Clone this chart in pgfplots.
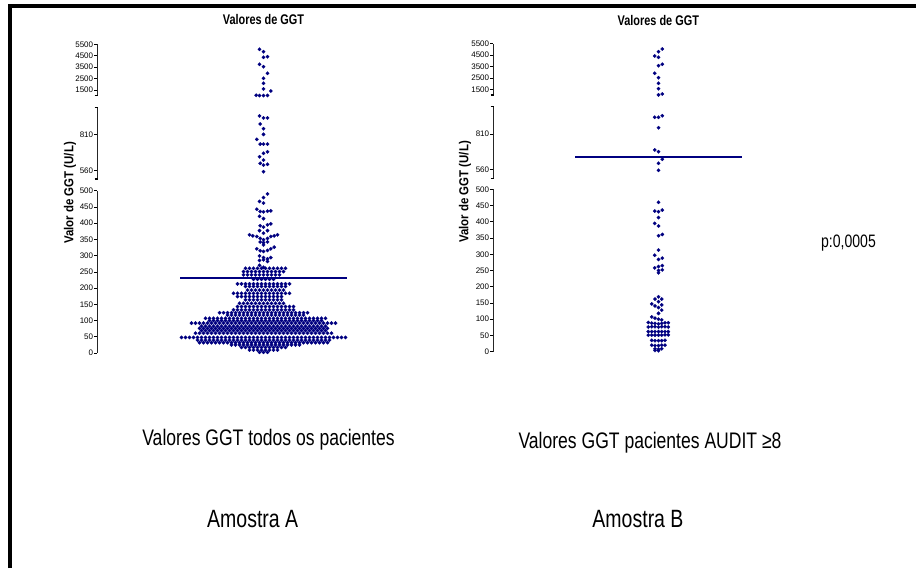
\documentclass[border=0pt]{standalone}
\usepackage{pgfplots}
\pgfplotsset{compat=1.18}
\usepackage{fontspec}
\setmainfont{Liberation Sans}
\newfontfamily\nf[FakeStretch=0.78]{Liberation Sans}
\newfontfamily\yf[FakeStretch=0.88]{Liberation Sans}
\definecolor{dotc}{RGB}{0,0,128}
\tikzset{segcap/.style={line width=1.2pt, black}}
\pgfplotsset{
 seg/.style={scale only axis, anchor=south west, clip=false,
   axis y line*=left, axis x line=none,
   y axis line style={-, line width=0.6pt, black!85},
   tick align=outside, major tick length=2.7pt,
   ytick style={line width=0.6pt, black},
   yticklabel style={font=\fontsize{8}{8}\selectfont, inner sep=1pt},
   /pgf/number format/assume math mode=true,
   /pgf/number format/1000 sep={},
   xtick=\empty},
 segA/.style={seg, width=333pt, xmin=-166.5, xmax=166.5},
 segB/.style={seg, width=331pt, xmin=-165.5, xmax=165.5},
 dots/.style={only marks, mark=*, mark size=1.75pt, mark options={draw=dotc, fill=dotc, line width=0.2pt}, dotc},
}
\begin{document}
\begin{tikzpicture}
\useasboundingbox (0,0) rectangle (916pt,568pt);
\draw[line width=4pt] (10pt,0pt) -- (10pt,562pt) -- (916pt,562pt);

% ---------- Panel A ----------
\begin{axis}[segA, at={(97pt,215pt)}, height=162.3pt, ymin=0, ymax=500, ytick={0,50,...,500},
  axis x line*=bottom, x axis line style={-, line width=1.5pt, black!70}]
\addplot[dots] coordinates {
(-4,2)(0,2)(4,2)
(-14,9)(-10,9)(-6,9)(-2,9)(2,9)(6,9)(10,9)(14,9)
(-22,17)(-18,17)(-14,17)(-10,17)(-6,17)(-2,17)(2,17)(6,17)(10,17)(14,17)(18,17)(22,17)
(-32,25)(-28,25)(-24,25)(-20,25)(-16,25)(-12,25)(-8,25)(-4,25)(0,25)(4,25)(8,25)(12,25)(16,25)(20,25)(24,25)(28,25)(32,25)(36,25)
(-64,32)(-60,32)(-56,32)(-52,32)(-48,32)(-44,32)(-40,32)(-36,32)(-32,32)(-28,32)(-24,32)(-20,32)(-16,32)(-12,32)(-8,32)(-4,32)(0,32)(4,32)(8,32)(12,32)(16,32)(20,32)(24,32)(28,32)(32,32)(36,32)(40,32)(44,32)(48,32)(52,32)(56,32)(60,32)(64,32)
(-66,40)(-62,40)(-58,40)(-54,40)(-50,40)(-46,40)(-42,40)(-38,40)(-34,40)(-30,40)(-26,40)(-22,40)(-18,40)(-14,40)(-10,40)(-6,40)(-2,40)(2,40)(6,40)(10,40)(14,40)(18,40)(22,40)(26,40)(30,40)(34,40)(38,40)(42,40)(46,40)(50,40)(54,40)(58,40)(62,40)(66,40)
(-82,48)(-78,48)(-74,48)(-70,48)(-66,48)(-62,48)(-58,48)(-54,48)(-50,48)(-46,48)(-42,48)(-38,48)(-34,48)(-30,48)(-26,48)(-22,48)(-18,48)(-14,48)(-10,48)(-6,48)(-2,48)(2,48)(6,48)(10,48)(14,48)(18,48)(22,48)(26,48)(30,48)(34,48)(38,48)(42,48)(46,48)(50,48)(54,48)(58,48)(62,48)(66,48)(70,48)(74,48)(78,48)(82,48)
(-68,61)(-64,61)(-60,61)(-56,61)(-52,61)(-48,61)(-44,61)(-40,61)(-36,61)(-32,61)(-28,61)(-24,61)(-20,61)(-16,61)(-12,61)(-8,61)(-4,61)(0,61)(4,61)(8,61)(12,61)(16,61)(20,61)(24,61)(28,61)(32,61)(36,61)(40,61)(44,61)(48,61)(52,61)(56,61)(60,61)(64,61)(68,61)
(-62,69)(-58,69)(-54,69)(-50,69)(-46,69)(-42,69)(-38,69)(-34,69)(-30,69)(-26,69)(-22,69)(-18,69)(-14,69)(-10,69)(-6,69)(-2,69)(2,69)(6,69)(10,69)(14,69)(18,69)(22,69)(26,69)(30,69)(34,69)(38,69)(42,69)(46,69)(50,69)(54,69)(58,69)(62,69)
(-64,76)(-60,76)(-56,76)(-52,76)(-48,76)(-44,76)(-40,76)(-36,76)(-32,76)(-28,76)(-24,76)(-20,76)(-16,76)(-12,76)(-8,76)(-4,76)(0,76)(4,76)(8,76)(12,76)(16,76)(20,76)(24,76)(28,76)(32,76)(36,76)(40,76)(44,76)(48,76)(52,76)(56,76)(60,76)(64,76)
(-62,83)(-58,83)(-54,83)(-50,83)(-46,83)(-42,83)(-38,83)(-34,83)(-30,83)(-26,83)(-22,83)(-18,83)(-14,83)(-10,83)(-6,83)(-2,83)(2,83)(6,83)(10,83)(14,83)(18,83)(22,83)(26,83)(30,83)(34,83)(38,83)(42,83)(46,83)(50,83)(54,83)(58,83)(62,83)
(-72,92)(-68,92)(-64,92)(-60,92)(-56,92)(-52,92)(-48,92)(-44,92)(-40,92)(-36,92)(-32,92)(-28,92)(-24,92)(-20,92)(-16,92)(-12,92)(-8,92)(-4,92)(0,92)(4,92)(8,92)(12,92)(16,92)(20,92)(24,92)(28,92)(32,92)(36,92)(40,92)(44,92)(48,92)(52,92)(56,92)(60,92)(64,92)(68,92)(72,92)
(-54,100)(-50,100)(-46,100)(-42,100)(-38,100)(-34,100)(-30,100)(-26,100)(-22,100)(-18,100)(-14,100)(-10,100)(-6,100)(-2,100)(2,100)(6,100)(10,100)(14,100)(18,100)(22,100)(26,100)(30,100)(34,100)(38,100)(42,100)(46,100)(50,100)(54,100)(58,100)
(-58,107)(-54,107)(-50,107)(-46,107)(-42,107)(-38,107)(-34,107)(-30,107)(-26,107)(-22,107)(-18,107)(-14,107)(-10,107)(-6,107)(-2,107)(2,107)(6,107)(10,107)(14,107)(18,107)(22,107)(26,107)(30,107)(34,107)(38,107)(42,107)(46,107)(50,107)(54,107)(58,107)(62,107)
(-36,117)(-32,117)(-28,117)(-24,117)(-20,117)(-16,117)(-12,117)(-8,117)(-4,117)(0,117)(4,117)(8,117)(12,117)(16,117)(20,117)(24,117)(28,117)(32,117)(36,117)(40,117)
(-44,124)(-40,124)(-36,124)(-32,124)(-28,124)(-24,124)(-20,124)(-16,124)(-12,124)(-8,124)(-4,124)(0,124)(4,124)(8,124)(12,124)(16,124)(20,124)(24,124)(28,124)(32,124)(36,124)(40,124)(44,124)
(-30,133)(-26,133)(-22,133)(-18,133)(-14,133)(-10,133)(-6,133)(-2,133)(2,133)(6,133)(10,133)(14,133)(18,133)(22,133)(26,133)(30,133)
(-26,143)(-22,143)(-18,143)(-14,143)(-10,143)(-6,143)(-2,143)(2,143)(6,143)(10,143)(14,143)(18,143)(22,143)(26,143)(30,143)
(-24,153)(-20,153)(-16,153)(-12,153)(-8,153)(-4,153)(0,153)(4,153)(8,153)(12,153)(16,153)(20,153)
(-18,164)(-14,164)(-10,164)(-6,164)(-2,164)(2,164)(6,164)(10,164)(14,164)(18,164)
(-26,174)(-22,174)(-18,174)(-14,174)(-10,174)(-6,174)(-2,174)(2,174)(6,174)(10,174)(14,174)(18,174)
(-30,184)(-26,184)(-22,184)(-18,184)(-14,184)(-10,184)(-6,184)(-2,184)(2,184)(6,184)(10,184)(14,184)(18,184)(22,184)(26,184)
(-16,194)(-12,194)(-8,194)(-4,194)(0,194)(4,194)(8,194)(12,194)(16,194)(20,194)
(-18,205)(-14,205)(-10,205)(-6,205)(-2,205)(2,205)(6,205)(10,205)(14,205)(18,205)(22,205)
(-26,213)(-22,213)(-18,213)(-14,213)(-10,213)(-6,213)(-2,213)(2,213)(6,213)(10,213)(14,213)(18,213)(22,213)(26,213)
(-10,227)(-6,227)(-2,227)(2,227)(6,227)(10,227)
(-20,241)(-16,241)(-12,241)(-8,241)(-4,241)(0,241)(4,241)(8,241)(12,241)(16,241)
(-20,251)(-16,251)(-12,251)(-8,251)(-4,251)(0,251)(4,251)(8,251)(12,251)(16,251)(20,251)
(-18,261)(-14,261)(-10,261)(-6,261)(-2,261)(2,261)(6,261)(10,261)(14,261)(18,261)(22,261)
(-4,270)(0,264)(-4,285)(0,287)(4,282)
(-4,299)(0,294)(4,290)(7.3,294)
(-6.7,321)(-3.3,315)(0,313)(4,316)(7.3,321)(10.7,326)
(0,333)(-3.3,342)(0,340)(4,342)
(-14,364)(-10.7,361)(-6.7,359)(-3.3,353)(0,349)(4,353)(7.3,359)(10.7,361)(14,364)
(0,369)(-4,377)(4,377)
(-3.3,392)(0,388)(4,395)(7.3,398)
(-4,421)(0,414)
(-6.7,443)(-3.3,436)(0,435)(4,437)(7.3,438)
(-4,467)(0,462)(0,479)(4,490)
};
\addplot[dotc, line width=2pt] coordinates {(-83.5,232)(83.5,232)};
\end{axis}

\begin{axis}[segA, at={(97pt,389pt)}, height=71.3pt, ymin=500, ymax=1000, ytick={560,810}]
\addplot[dots] coordinates {
(-4,942)(0,928)(4,928)(-3.3,886)(0,853)(0,813)(-6.7,778)(-3.3,745)(0,745)(4,745)
(4,691)(0,680)(-4,656)(0,633)(-3.3,610)(0,598)(4,603)(0,551)
};
\draw[segcap] ([xshift=-2.5pt]rel axis cs:0,0) -- ([xshift=1pt]rel axis cs:0,0);
\draw[segcap] ([xshift=-2.5pt]rel axis cs:0,1) -- ([xshift=1pt]rel axis cs:0,1);
\end{axis}

\begin{axis}[segA, at={(97pt,472.3pt)}, height=51.4pt, ymin=1000, ymax=5500, ytick={1500,2500,3500,4500,5500}]
\addplot[dots] coordinates {
(-4,5062)(0,4852)(0,4362)(4,4414)(-4,3749)(0,3539)(4,2961)(0,2523)(0,2086)(0,1587)
(7.3,1412)(-7.3,1035)(-4,1010)(0,1010)(4,1025)
};
\draw[segcap] ([xshift=-2.5pt]rel axis cs:0,0) -- ([xshift=1pt]rel axis cs:0,0);
\end{axis}

% ---------- Panel B ----------
\begin{axis}[segB, at={(493pt,216.3pt)}, height=162.4pt, ymin=0, ymax=500, ytick={0,50,...,500},
  axis x line*=bottom, x axis line style={-, line width=1.5pt, black!70}]
\addplot[dots] coordinates {
(0,169)(-3.5,162)(3.2,162)(0,154)(-6.8,147)(-3.5,141)(3.2,144)(0,136)(3.2,128)(0,118)
(-6.8,107)(-3.5,103)(0,100)(3.2,98)
(-10.2,90)(-6.8,88)(-3.5,87)(0,86)(3.2,87)(6.5,89)(9.8,89)
(-10.2,76)(-6.8,77)(-3.5,77)(0,76)(3.2,77)(6.5,77)(9.8,76)
(-10.2,62)(-6.8,62)(-3.5,62)(0,62)(3.2,62)(6.5,62)(9.8,62)
(-10.2,51)(-6.8,51)(-3.5,51)(0,51)(3.2,51)(6.5,52)(9.8,52)
(-6.8,35)(-3.5,34)(0,34)(3.2,34)(6.5,35)
(-6.8,20)(-3.5,19)(0,19)(3.2,20)(6.5,20)
(-3.5,9)(0,8)(3.2,9)(-3.5,4)(0,3)
(0,460)(-3.8,433)(0,431)(3.8,436)(0,413)(-3.8,395)(0,387)(0,357)(3.8,361)(0,313)
(-3.8,297)(0,284)(3.8,288)(-3.8,258)(0,262)(3.8,265)(0,250)(3.8,252)(0,243)
};
\end{axis}

\begin{axis}[segB, at={(493pt,389.7pt)}, height=71.6pt, ymin=500, ymax=1000, ytick={560,810}]
\addplot[dots] coordinates {
(-3.8,926)(0,926)(3.8,937)(0,853)(-3.8,698)(0,686)(3.8,633)(0,605)(0,556)
};
\addplot[dotc, line width=2pt] coordinates {(-83.5,651)(83.5,651)};
\draw[segcap] ([xshift=-2.5pt]rel axis cs:0,0) -- ([xshift=1pt]rel axis cs:0,0);
\draw[segcap] ([xshift=-2.5pt]rel axis cs:0,1) -- ([xshift=1pt]rel axis cs:0,1);
\end{axis}

\begin{axis}[segB, at={(493pt,473pt)}, height=51.3pt, ymin=1000, ymax=5500, ytick={1500,2500,3500,4500,5500}]
\addplot[dots] coordinates {
(3.8,5035)(0,4798)(-3.8,4421)(0,4307)(3.8,3693)(0,3570)(-3.8,2904)(0,2518)(0,2026)(0,1553)
(0,1010)(3.8,1090)
};
\draw[segcap] ([xshift=-2.5pt]rel axis cs:0,0) -- ([xshift=1pt]rel axis cs:0,0);
\end{axis}

% ---------- Texts ----------
\node[anchor=base, font=\nf\bfseries\fontsize{14}{14}\selectfont] at (263.5pt,543pt) {Valores de GGT};
\node[anchor=base, font=\nf\bfseries\fontsize{14}{14}\selectfont] at (658.3pt,542pt) {Valores de GGT};
\node[rotate=90, font=\yf\bfseries\fontsize{13}{13}\selectfont] at (70pt,375pt) {Valor de GGT (U/L)};
\node[rotate=90, font=\yf\bfseries\fontsize{13}{13}\selectfont] at (465pt,376pt) {Valor de GGT (U/L)};
\node[anchor=base, font=\nf\fontsize{18}{18}\selectfont] at (848.5pt,320pt) {p:0,0005};
\node[anchor=base, font=\nf\fontsize{22.5}{24}\selectfont] at (268.5pt,122.4pt) {Valores GGT todos os pacientes};
\node[anchor=base, font=\nf\fontsize{22.5}{24}\selectfont] at (650pt,119.5pt) {Valores GGT pacientes AUDIT ≥8};
\node[anchor=base, font=\nf\fontsize{25}{26}\selectfont] at (252.7pt,41pt) {Amostra A};
\node[anchor=base, font=\nf\fontsize{25}{26}\selectfont] at (638pt,41pt) {Amostra B};
\end{tikzpicture}
\end{document}
